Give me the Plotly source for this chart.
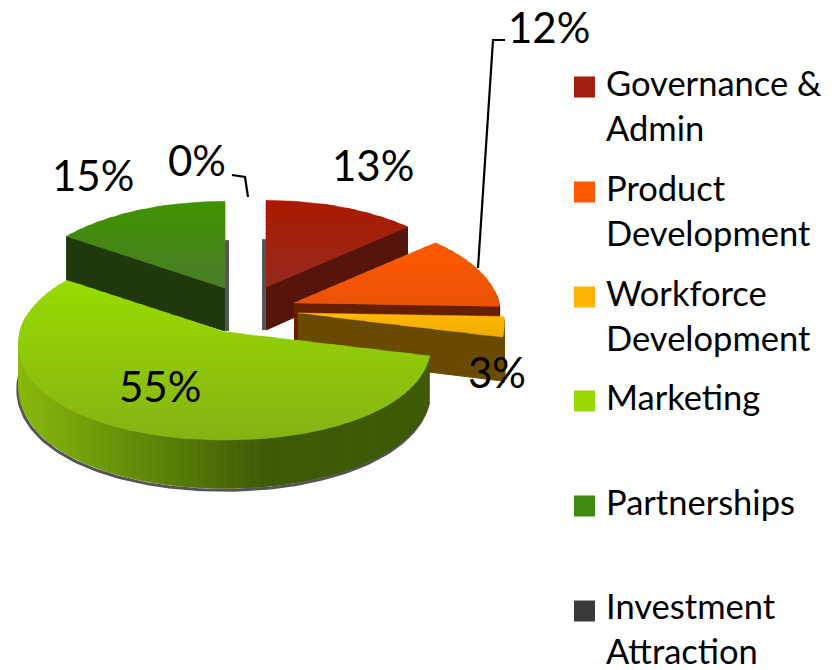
import numpy as np
import plotly.graph_objects as go

categories = ["Governance &<br>Admin", "Product<br>Development", "Workforce<br>Development",
              "Marketing", "Partnerships", "Investment<br>Attraction"]
values = [13, 12, 3, 55, 15, 0]

apex = [(266, 287), (294, 303), (298, 313), (225, 332), (225, 288), (246, 300)]
top_a = ["#aa1a00", "#ff5a00", "#ffb900", "#98dc00", "#409300", "#3a3a3a"]
top_b = ["#962a1e", "#eb5208", "#f0aa00", "#86b214", "#4a7d2a", "#3a3a3a"]
wall_col = ["#56150c", "#661f00", "#694a00", "#3f5a06", "#1f380c", "#222222"]
legend_col = ["#a01f10", "#ff5a00", "#fbb400", "#98d800", "#418a10", "#3a3a3a"]
label_pos = [(373, 165), (549, 27), (497, 372), (160, 386), (93, 175), (197, 160)]
legend_marker_y = [87, 192, 297, 401, 506, 611]
legend_text_y = [85, 190, 295, 399, 504, 608]

R, P, K_UP, K_DOWN, D = 205, 0.108, 96, 108, 43


def rim(theta, ax, ay):
    X, Y = np.sin(theta), np.cos(theta)
    s = 1 / (1 + P * Y)
    dy = np.where(Y >= 0, -K_UP * Y * s, K_DOWN * np.abs(Y))
    return ax + R * X * s, ay + dy, D * s


def clip(poly, y, keep_below):
    out = []
    n = len(poly)
    for i in range(n):
        a, b = poly[i], poly[(i + 1) % n]
        ina = a[1] >= y if keep_below else a[1] <= y
        inb = b[1] >= y if keep_below else b[1] <= y
        if ina:
            out.append(a)
        if ina != inb:
            t = (y - a[1]) / (b[1] - a[1])
            out.append((a[0] + t * (b[0] - a[0]), y))
    return out


def mix(c1, c2, t):
    a = [int(c1[i:i + 2], 16) for i in (1, 3, 5)]
    b = [int(c2[i:i + 2], 16) for i in (1, 3, 5)]
    return "rgb(%d,%d,%d)" % tuple(round(a[i] + (b[i] - a[i]) * t) for i in range(3))


fig = go.Figure()


def poly(xs, ys, color, lw=1):
    fig.add_trace(go.Scatter(x=list(xs), y=list(ys), mode="lines", fill="toself", fillcolor=color,
                             line=dict(color=color, width=lw), showlegend=False, hoverinfo="skip"))


total = sum(values)
edges = np.concatenate([[0], np.cumsum(values)]) / total * 2 * np.pi
order = [4, 0, 1, 2, 3]

for i in order:
    t0, t1 = edges[i], edges[i + 1]
    ax, ay = apex[i]
    th = np.linspace(t0, t1, max(int((t1 - t0) * 40), 12))
    x, y, d = rim(th, ax, ay)

    # soft dark edge below the outer wall
    if i in (3, 2):
        fig.add_trace(go.Scatter(x=x - 1 if i == 3 else x, y=y + d + 2, mode="lines",
                                 line=dict(color="#555555", width=3), showlegend=False, hoverinfo="skip"))

    # thin grey sliver along the hidden radial walls
    if i == 4:
        xe, ye, de = rim(np.array([t1]), ax, ay)
        fig.add_trace(go.Scatter(x=[xe[0] + 2, ax + 2], y=[ye[0] + de[0], ay + D], mode="lines",
                                 line=dict(color="#555555", width=4), showlegend=False, hoverinfo="skip"))
    if i == 0:
        xe, ye, de = rim(np.array([t0]), ax, ay)
        fig.add_trace(go.Scatter(x=[xe[0] - 2, ax - 2], y=[ye[0] + de[0], ay + D], mode="lines",
                                 line=dict(color="#555555", width=4), showlegend=False, hoverinfo="skip"))

    # radial wall facing the viewer
    wall_t = t0 if i == 4 else t1
    if i != 3:
        xw, yw, dw = rim(np.array([wall_t]), ax, ay)
        extra = 5 if i == 4 else 0
        poly([ax, xw[0], xw[0], ax], [ay, yw[0], yw[0] + dw[0] + extra, ay + D], wall_col[i])

    # outer wall, shaded left to right (strips overlap so no seams appear)
    idx = list(range(len(th) - 1))
    if i == 3:
        idx = idx[::-1]
    for j in idx:
        if np.cos(th[j]) > 0.15:
            continue
        if i == 3:
            u = np.clip((x[j] - 25) / 250, 0, 1)
            c = mix("#88b80c", "#3f5a06", u)
        else:
            c = wall_col[i]
        k = min(j + 2, len(th) - 1)
        poly([x[j], x[k], x[k], x[j]], [y[j], y[k], y[k] + d[k], y[j] + d[j]], c, lw=0.5)

    # top face, banded vertically (bands overlap so no seams appear)
    pts = [(ax, ay)] + list(zip(x, y))
    ymin, ymax = min(p[1] for p in pts), max(p[1] for p in pts)
    cuts = np.arange(ymin, ymax + 4, 4)
    for a, b in zip(cuts[:-1], cuts[1:]):
        band = clip(clip(pts, a, True), b + 2, False)
        if len(band) >= 3:
            c = mix(top_a[i], top_b[i], ((a + b) / 2 - ymin) / max(ymax - ymin, 1))
            poly([p[0] for p in band], [p[1] for p in band], c, lw=0.5)

# leader lines
for lx, ly in [([505, 493, 478], [40, 40, 268]), ([232, 245, 248], [175, 177, 197])]:
    fig.add_trace(go.Scatter(x=lx, y=ly, mode="lines", line=dict(color="black", width=2.2),
                             showlegend=False, hoverinfo="skip"))

# legend, laid out by hand so that all six entries fit the page
fig.add_trace(go.Scatter(x=[584.5] * len(categories), y=legend_marker_y, mode="markers", showlegend=False,
                         hoverinfo="skip", marker=dict(symbol="square", size=21, color=legend_col)))
for name, ty in zip(categories, legend_text_y):
    fig.add_annotation(x=605, y=ty - 24, text=name, showarrow=False, xanchor="left", yanchor="top", align="left",
                       borderpad=0, font=dict(family="Lato", size=34.5, color="black"))

for v, (lx, ly) in zip(values, label_pos):
    fig.add_annotation(x=lx, y=ly, text=f"{v}%", showarrow=False, font=dict(family="Lato", size=42, color="black"))

fig.update_layout(
    width=838, height=670, margin=dict(l=0, r=0, t=0, b=0), paper_bgcolor="white", plot_bgcolor="white",
    xaxis=dict(range=[0, 838], visible=False, fixedrange=True),
    yaxis=dict(range=[670, 0], visible=False, fixedrange=True),
    showlegend=False,
    font=dict(family="Lato"),
)
fig.write_html("out.html", post_script="document.body.style.margin='0';",
               config={"displayModeBar": False})
